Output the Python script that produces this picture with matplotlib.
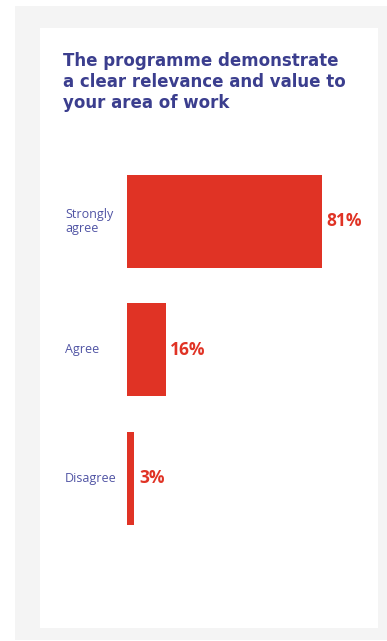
import matplotlib
matplotlib.use("Agg")
import matplotlib.pyplot as plt
from matplotlib.patches import Rectangle
import matplotlib.transforms as mtransforms

title = "The programme demonstrate\na clear relevance and value to\nyour area of work"
categories = ["Strongly\nagree", "Agree", "Disagree"]
values = [81, 16, 3]

red = "#e03325"
title_col = "#3b3e8e"
label_col = "#5054a4"

W, H = 387, 641
fig = plt.figure(figsize=(W / 100, H / 100), dpi=100)
fig.patch.set_facecolor("white")


def px_rect(x0, y0, x1, y1, color):
    # rectangle given in pixel coords measured from top-left
    fig.patches.append(Rectangle((x0 / W, 1 - y1 / H), (x1 - x0) / W, (y1 - y0) / H,
                                 transform=fig.transFigure, facecolor=color,
                                 edgecolor="none", zorder=-10))


px_rect(15, 6, 387, 640, "#f4f4f4")
px_rect(40, 28, 378, 628, "white")

fig.text(63 / W, 1 - 52 / H, title, ha="left", va="top", color=title_col,
         fontsize=12, fontweight="bold", family="DejaVu Sans", linespacing=1.22)

# bars axes
ax_left, ax_w = 127, 240.7
ax_top, ax_h = 157, 385.5
ax = fig.add_axes([ax_left / W, 1 - (ax_top + ax_h) / H, ax_w / W, ax_h / H])
ax.set_facecolor("none")
pos = range(len(categories))
bars = ax.barh(pos, values, height=0.72, color=red)
ax.set_xlim(0, 100)
ax.set_ylim(2.5, -0.5)
ax.axis("off")

for b, v in zip(bars, values):
    ax.annotate(f"{v}%", (b.get_width(), b.get_y() + b.get_height() / 2),
                xytext=(3.5, 0), textcoords="offset points", ha="left", va="center",
                color=red, fontsize=12.5, fontweight="bold", family="Open Sans")

trans = mtransforms.blended_transform_factory(fig.transFigure, ax.transData)
for p, c in zip(pos, categories):
    ax.text(65 / W, p, c, transform=trans, ha="left", va="center",
            color=label_col, fontsize=9, family="Open Sans", linespacing=1.1)

fig.savefig("out.png", dpi=100)
